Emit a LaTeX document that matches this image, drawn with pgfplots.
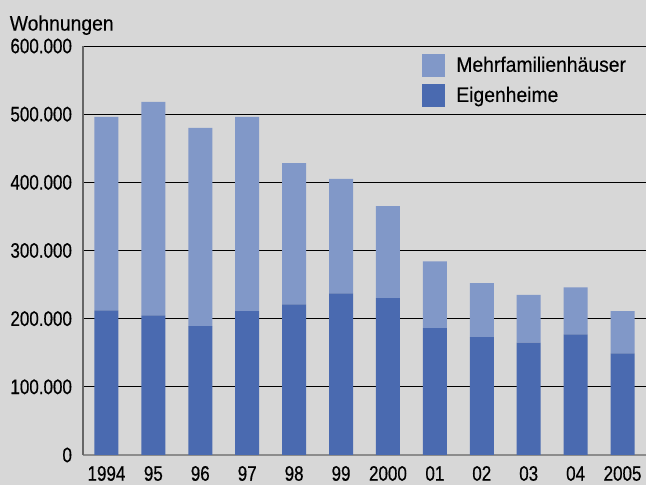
\documentclass[border=0pt]{standalone}
\usepackage{fontspec}
\setmainfont{Liberation Sans}[FakeStretch=0.92, FakeBold=0.25]
\newfontfamily\numfont{Liberation Sans}[FakeStretch=0.81, FakeBold=0.5]
\usepackage{pgfplots}
\pgfplotsset{compat=1.18}
\definecolor{bg}{HTML}{D7D7D7}
\definecolor{mfh}{HTML}{8198C8}
\definecolor{eh}{HTML}{4A6AB0}
\newcommand{\lblfont}{\fontsize{10.5}{12}\selectfont}
\pgfplotsset{boxlegend/.style={legend image code/.code={%
  \fill[##1] (0pt,-5.75pt) rectangle (11.5pt,5.75pt);}}}
\begin{document}
\begin{tikzpicture}[x=1pt,y=1pt]
\fill[bg] (-41.5,-15) rectangle (281.5,227.5);
\useasboundingbox (-41.5,-15) rectangle (281.5,227.5);
\node[anchor=base west, inner sep=0pt, font=\lblfont] at (-36.8,212.2) {Wohnungen};
\begin{axis}[
  scale only axis, width=281.5pt, height=204.5pt,
  ybar stacked, bar width=12pt,
  xmin=-0.5, xmax=11.5, ymin=0, ymax=600000,
  xtick={0,...,11},
  xticklabels={1994,95,96,97,98,99,2000,01,02,03,04,2005},
  ytick={0,100000,200000,300000,400000,500000,600000},
  yticklabels={0,100.000,200.000,300.000,400.000,500.000,600.000},
  scaled y ticks=false,
  major tick length=0pt,
  ymajorgrids, grid style={black, line width=0.5pt},
  axis x line=bottom, axis y line=left,
  x axis line style={-, draw=black!45, line width=0.9pt},
  y axis line style={-, draw=black!60, line width=0.8pt},
  tick label style={font=\numfont\lblfont},
  yticklabel style={xshift=-2pt},
  xticklabel style={yshift=-2pt},
  legend style={at={(0.602,0.985)}, anchor=north west, draw=none, fill=none,
    inner sep=0pt, font=\lblfont, row sep=2pt,
    /tikz/every odd column/.style={column sep=3.5pt}},
  legend cell align=left,
  reverse legend,
]
\addplot[fill=eh, draw=none, boxlegend]
  coordinates {(0,212000)(1,205000)(2,189000)(3,211000)(4,221000)(5,237000)
               (6,230000)(7,186000)(8,173000)(9,165000)(10,177000)(11,149000)};
\addlegendentry{Eigenheime}
\addplot[fill=mfh, draw=none, boxlegend]
  coordinates {(0,284000)(1,313000)(2,291000)(3,285000)(4,207000)(5,168000)
               (6,135000)(7,98000)(8,79000)(9,70000)(10,69000)(11,62000)};
\addlegendentry{Mehrfamilienhäuser}
\end{axis}
\end{tikzpicture}
\end{document}
